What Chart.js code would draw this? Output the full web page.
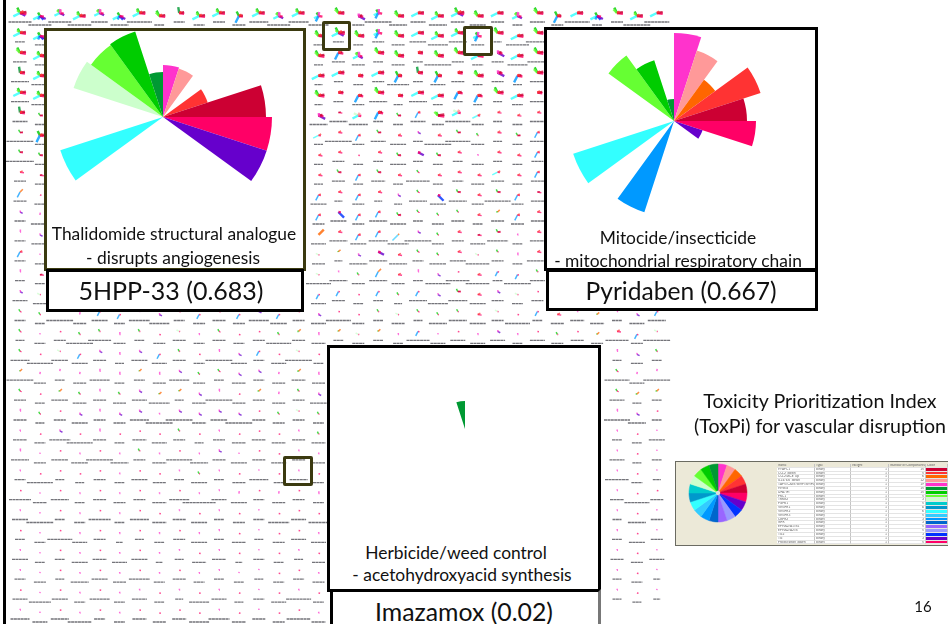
<!DOCTYPE html>
<html><head><meta charset="utf-8">
<style>
html,body{margin:0;padding:0;background:#fff;width:948px;height:624px;overflow:hidden;font-family:Lato,"Open Sans",sans-serif;color:#111}
canvas{position:absolute;display:block}
#grid{left:0;top:0;z-index:1;filter:blur(.5px)}
.abs{position:absolute}
.panel{position:absolute;background:#fff;box-sizing:border-box;z-index:2}
.txt{position:absolute;z-index:4;transform:translate(-50%,-50%);white-space:nowrap;text-align:center}
.big{z-index:3;filter:blur(.3px)}
.sq{position:absolute;box-sizing:border-box;border:3.5px solid #3b3a10;border-radius:2px;z-index:3}
#thumb{position:absolute;left:675px;top:461px;width:273px;height:85px;background:#ece9d8;box-sizing:border-box;border:1.5px solid #6b6b62;border-right:none;z-index:2}
#tbl{position:absolute;left:777px;top:464px;width:171px;z-index:4;display:grid;grid-template-columns:38px 36px 38px 37px 22px;grid-auto-rows:3.84px;font-size:3.3px;line-height:3.6px;color:#666;background:#fff;filter:blur(.25px)}
#tbl div{overflow:hidden;white-space:nowrap;padding:0 1px;box-sizing:border-box;border-bottom:.4px solid #e4e4e4;border-right:.4px solid #c4c4c4}
#tbl div.h{background:#ece9d8}
#tbl div.n{text-align:right}
</style>
<script src="https://cdn.jsdelivr.net/npm/chart.js@4/dist/chart.umd.min.js"></script>
</head><body>
<canvas id="grid" width="948" height="624"></canvas>

<div class="abs" style="left:3px;top:0;width:3px;height:624px;background:#000;z-index:2"></div>

<div class="panel" style="left:44px;top:28px;width:262px;height:243px;border:3px solid #3b3a10"></div>
<div class="panel" style="left:46px;top:269px;width:258px;height:43px;border:3px solid #000"></div>
<div class="panel" style="left:544px;top:27px;width:274px;height:244px;border:3px solid #000"></div>
<div class="panel" style="left:546px;top:269px;width:272px;height:42px;border:3px solid #000"></div>
<div class="panel" style="left:327px;top:345px;width:274px;height:247px;border:3px solid #000"></div>
<div class="panel" style="left:330px;top:589px;width:271px;height:40px;border:3px solid #000;border-right-color:#777"></div>

<canvas id="pie1" class="big" width="240" height="240" style="left:43px;top:-3px"></canvas>
<canvas id="pie2" class="big" width="240" height="240" style="left:554px;top:1px"></canvas>
<canvas id="pie3" class="big" width="80" height="80" style="left:425px;top:389px"></canvas>

<div class="sq" style="left:322px;top:21px;width:29px;height:30px"></div>
<div class="sq" style="left:463px;top:26px;width:30px;height:30px"></div>
<div class="sq" style="left:283px;top:456px;width:30px;height:30px"></div>

<div class="txt" style="left:174px;top:233px;font-size:17.4px">Thalidomide structural analogue</div>
<div class="txt" style="left:173px;top:257px;font-size:17.4px">- disrupts angiogenesis</div>
<div class="txt" style="left:171px;top:290px;font-size:25px">5HPP-33 (0.683)</div>
<div class="txt" style="left:678px;top:237px;font-size:17.4px">Mitocide/insecticide</div>
<div class="txt" style="left:678px;top:260px;font-size:17.4px">- mitochondrial respiratory chain</div>
<div class="txt" style="left:681px;top:290px;font-size:24.6px">Pyridaben (0.667)</div>
<div class="txt" style="left:456px;top:552px;font-size:17.4px">Herbicide/weed control</div>
<div class="txt" style="left:462px;top:574px;font-size:17.4px">- acetohydroxyacid synthesis</div>
<div class="txt" style="left:464px;top:611px;font-size:24.8px">Imazamox (0.02)</div>
<div class="txt" style="left:820px;top:400px;font-size:19.6px">Toxicity Prioritization Index</div>
<div class="txt" style="left:820px;top:425px;font-size:19.6px">(ToxPi) for vascular disruption</div>
<div class="txt" style="left:923px;top:606px;font-size:15px">16</div>

<div id="thumb"></div>
<div class="abs" style="left:715px;top:490px;width:6px;height:6px;border-radius:50%;background:#ddd;z-index:2"></div>
<canvas id="wheel" width="70" height="70" style="left:683px;top:458px;z-index:3"></canvas>
<div id="tbl"></div>

<script>
// ToxPi slice colours, clockwise from north (20 slices of 18 degrees)
const sliceColors = ['#ff33cc','#ff9999','#ff6600','#ff3333','#cc0033','#ff0066','#6600cc','#0033ff','#9999ff','#9966ff',
  '#0066cc','#0099ff','#33ccff','#33ffff','#0099cc','#00cccc','#ccffcc','#66ff33','#00cc00','#009933'];

// Highlighted compounds: slice radius
const thalidomideRadii = [52,51,0,47,103,109,109,0,0,0,0,0,0,108,0,0,94,89,90,45];
const pyridabenRadii   = [88,74,51,91,73,82,30,0,0,0,0,96,0,106,0,0,0,81,64,22];
const imazamoxRadii    = [0,0,0,0,0,0,0,0,0,0,0,0,0,0,0,0,0,0,0,28];
const wheelShares      = [1,1,1,1,1,1,1,1,1,1,1,1,1,1,1,1,1,1,1,1];

// Background compounds: small profile archetypes, slice index -> radius
const glyphProfiles = {
  A:{3:4,4:6.5,5:6.5,6:6,13:7.5,17:4,18:6}, B:{3:3,4:6,5:6,17:5,18:6}, C:{3:3,4:6,5:6,13:7.5},
  D:{3:3,4:6,5:6,13:7.5,17:4,18:5}, E:{0:4,1:3,5:4,6:5,13:6,17:4,18:4}, F:{5:4,6:6.5,7:5,11:4,13:7.5,18:4},
  G:{3:3,4:4,5:4,11:7.5,18:5}, H:{3:2.5,4:4,5:5,11:7.5}, I:{4:4,5:5,6:7.5,0:2.5}, J:{19:6,3:2.5,4:5,5:5},
  K:{3:3,4:5,5:5}, L:{0:4,11:6,13:5,18:4,5:4}, M:{13:6.5,16:5,1:3,5:3}, N:{17:5,18:4,4:6.5,5:6.5},
  O:{2:7.5}, V:{6:6.5,5:2.5}, W:{7:8,5:2.5},
  r:{5:1.6}, p:{0:1.3}, m:{0:2.4}, v:{6:3,0:1.5}, g:{18:2.5,5:1}, l:{16:3,5:1}, o:{2:3,18:1}, b:{11:5,5:1.5},
  s:{3:3,5:4}, t:{5:4,4:2.5}, u:{18:3,4:3,5:3}, x:{13:6,3:3,5:2.5}, y:{11:6,3:2.5,5:2.5}, z:{11:6,2:4}, c:{12:8,2:1.5}
};

// One string per row, one character per column ('.' = covered by a panel)
const glyphRows = [
  "AFEDEFDBJDDGDEDLBILBCDABCEBGCFBDC",
  "DF.............BABLBCDDLBCB......",
  "BD.............BHEBBKBBCICB......",
  "JD.............CCKCGJGKBIHB......",
  "DD.............BKHBKCCHHBCK......",
  "Ju.............ItMHuyNMxsss......",
  "uG.............xsyusvsugsuy......",
  "uu.............ssrsuVuspssy......",
  "st.............suyusgsssxsy......",
  "zr.............ysysvgWusuyt......",
  "vm.............yWyyugggsoys......",
  "mv.............Osyycvgstups......",
  "yp.............lovVsggslgms......",
  "mt.............lpgzsmvrsbbg......",
  "vl.............bbrbgbvusvlr......",
  "ggmmbbpvrbgbvbrvrrglgggslrbsmomvb",
  "gprggmgrlpgrrgomolopbprpvprgrosbl",
  "grlbvmvbgrmvbrlr..............mvg",
  "ommmmmomvggvvmom..............gmm",
  "grogmgvoovmromgv..............goo",
  "mgrvmvvpvvvvrglg..............mvr",
  "prvrmrrrgrprrrpg..............prp",
  "mprprpgprpvprrpp..............prp",
  "prrrrprrpgprprpr..............prp",
  "rprprprprppmrmrm..............prr",
  "pprprprrprprprrr..............prp",
  "rprprprprpprprrp..............prp",
  "pprprprpprprprpr..............prp",
  "pprprprprpppprrp..............prp",
  "rprprpprprprprpr..............prp",
  "pprprprrrrprprrp................."
];

// Width of each compound's caption smudge, base 36 per column
const captionRows = [
  "nnnohipabbcdjnkkacrifiegdafcpacrp",
  "aa.............abacdhkid8nn......",
  "ea.............9ddadarcbckk......",
  "ih.............89acmafdac9f......",
  "ih.............8aci9iaa99bf......",
  "fa.............iijaafcpc9af......",
  "ra.............9rcfgarpd9af......",
  "sa.............9caagaaac9ac......",
  "ca.............9daeaoabddad......",
  "db.............g8c88igicqcd......",
  "bi.............cgcigacdaddd......",
  "bh.............figjlrccflaf......",
  "ba.............d8iiibhgocal......",
  "aa.............pididapooarf......",
  "fe.............fdaa8ikjgcbc......",
  "bardgblkbcdckhcfpcad9iigcpadeeafi",
  "9bcrncacdbdbcpdeacaanffffafcdcncr",
  "jqhgd9gfdbrgbfra..............9ca",
  "rcadkabdkcaebded..............pfr",
  "caheddfl9erdcdch..............f9a",
  "d9cgccjrrehrdccb..............qia",
  "eblqdaefc9ceeede..............aag",
  "ichhriceqidgdfdd..............f9a",
  "bq99cagdagadjaib..............ob8",
  "meiadccekxfgbdcb..............epd",
  "grabmajedgacblfk..............9ic",
  "abpfc79acgae9cff..............agc",
  "gaagefg79ee7ba9d..............dcf",
  "bc9igdlbdbaa9bbc..............9b7",
  "fmgbkbfa8kf9bfpb..............997",
  "jfiobbedekledcoe................."
];

const rowStep = 19.9, colStep = 19.9;

// Legend table of the ToxPi model
const tableHeaders = ['Name','Type','Weight','Number of Components','Color'];
const tableNames = ['H-APC1','CCL2_down','CCL2/ACE_up','IL1a/IL6_down','TAP5/CAS9/BMP/BMPs','HMBG','UFA/IFI','PKC1','TRKB2','FGFR1','VEGFR1','VEGFR2','VEGFR3','CBFR2','NFR','EPHA2/A1/B1','EPHA2/A2/B','Tie2','Tie','Proliferation_down'];
const tableCounts = [15,5,6,12,19,15,15,5,3,5,4,6,5,3,3,5,5,3,3,5];
const tableColors = ['#cc0033','#ff3333','#ff6600','#ff9999','#ff33cc','#009933','#00cc00','#66ff33','#ccffcc','#00cccc','#0099cc','#33ffff','#33ccff','#0099ff','#0066cc','#9966ff','#9999ff','#0033ff','#6600cc','#ff0066'];

// ---- background grid
const bigSegs = sliceColors.map(()=>[]), smallSegs = sliceColors.map(()=>[]), caps = [];
glyphRows.forEach((row,k)=>{
  [...row].forEach((ch,i)=>{
    const shift = i%2 ? 3 : 0;
    const cx = 20+colStep*i, cy = 13+rowStep*k+shift;
    const prof = glyphProfiles[ch];
    const target = ch>='A'&&ch<='Z' ? bigSegs : smallSegs;
    if(prof) Object.keys(prof).forEach(s=>{
      const a = (+s*18+9)*Math.PI/180, r = prof[s];
      target[s].push({x:cx,y:cy},{x:cx+r*Math.sin(a),y:cy-r*Math.cos(a)},{x:cx,y:NaN});
    });
    const w = parseInt(captionRows[k][i],36);
    if(w>0){
      const ly = 22+rowStep*k+shift;
      caps.push({x:cx-w/2,y:ly},{x:cx+w/2,y:ly},{x:cx,y:NaN});
    }
  });
});
const off = {animation:false,responsive:false,maintainAspectRatio:false,events:[],plugins:{legend:{display:false},tooltip:{enabled:false},title:{display:false}}};
const segDataset = (d,i,w,a)=>({data:d,borderColor:sliceColors[i]+a,borderWidth:w,pointRadius:0,borderCapStyle:'butt',spanGaps:false,tension:0});
new Chart(document.getElementById('grid'),{
  type:'line',
  data:{datasets:[
    {data:caps,borderColor:'rgba(30,30,40,.62)',borderWidth:1.3,borderDash:[3,.4],pointRadius:0,borderCapStyle:'butt',spanGaps:false,tension:0}
  ].concat(bigSegs.map((d,i)=>segDataset(d,i,2.4,'d0')),smallSegs.map((d,i)=>segDataset(d,i,1.5,'b8')))},
  options:{...off,layout:{padding:0},scales:{
    x:{type:'linear',min:0,max:948,display:false},
    y:{type:'linear',min:0,max:624,reverse:true,display:false}}}
});

// ---- highlighted ToxPi profiles
function toxpi(id,vals,max){
  new Chart(document.getElementById(id),{
    type:'polarArea',
    data:{labels:sliceColors.map((c,i)=>'slice '+(i+1)),datasets:[{data:vals,backgroundColor:sliceColors,borderWidth:0}]},
    options:{...off,layout:{padding:0},scales:{r:{display:false,min:0,max:max,ticks:{display:false}}}}
  });
}
toxpi('pie1',thalidomideRadii,120);
toxpi('pie2',pyridabenRadii,120);
toxpi('pie3',imazamoxRadii,40);

new Chart(document.getElementById('wheel'),{
  type:'doughnut',
  data:{labels:sliceColors.map((c,i)=>'slice '+(i+1)),datasets:[{data:wheelShares,backgroundColor:sliceColors,borderColor:sliceColors,borderWidth:.5}]},
  options:{...off,radius:29,cutout:3}
});

// ---- legend table
let html=tableHeaders.map(h=>'<div class="h">'+h+'</div>').join('');
tableNames.forEach((n,i)=>{
  html+='<div>'+n+'</div><div>binary</div><div class="n">1</div><div class="n">'+tableCounts[i]+'</div><div style="background:'+tableColors[i]+'"></div>';
});
document.getElementById('tbl').innerHTML=html;
</script>
</body></html>
